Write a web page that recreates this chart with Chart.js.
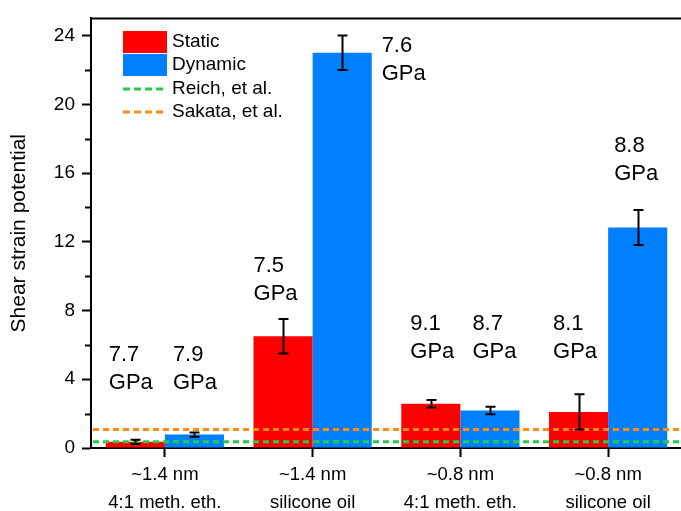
<!DOCTYPE html>
<html>
<head>
<meta charset="utf-8">
<script src="https://cdn.jsdelivr.net/npm/chart.js@4.4.1/dist/chart.umd.min.js"></script>
<style>
  html, body { margin: 0; padding: 0; background: #fff; overflow: hidden; }
  #wrap { position: absolute; left: 0; top: 0; width: 700px; height: 511px; }
</style>
</head>
<body>
<div id="wrap"><canvas id="c" width="700" height="511"></canvas></div>
<script>
// ---- data ----
const categories = [
  ['~1.4 nm', '4:1 meth. eth.'],
  ['~1.4 nm', 'silicone oil'],
  ['~0.8 nm', '4:1 meth. eth.'],
  ['~0.8 nm', 'silicone oil']
];
const staticValues   = [0.36, 6.5, 2.58, 2.1];
const staticErrors   = [0.12, 1.0, 0.22, 1.03];
const dynamicValues  = [0.78, 23.0, 2.18, 12.83];
const dynamicErrors  = [0.12, 1.0, 0.22, 1.02];
const staticModulus  = ['7.7', '7.5', '9.1', '8.1'];
const dynamicModulus = ['7.9', '7.6', '8.7', '8.8'];
const referenceLabels = ['Reich, et al.', 'Sakata, et al.'];
const referenceLevels = [0.37, 1.08];
const yMajorTicks = [0, 4, 8, 12, 16, 20, 24];
const yMinorTicks = [2, 6, 10, 14, 18, 22];

const FONT = 'Liberation Sans, Arial, sans-serif';
const RED = '#ff0000', BLUE = '#0080ff';
const REF_COLORS = ['#22cc44', '#ff8a14'];

// where each "x.x GPa" note sits: dx from the bar's left edge, v = data level of the first line
const noteSpots = {
  0: [{dx: 3, v: 5.4}, {dx: 0, v: 10.6}, {dx: 9, v: 7.2}, {dx: 4, v: 7.2}],
  1: [{dx: 8, v: 5.4}, {dx: 69, v: 23.4}, {dx: 12, v: 7.2}, {dx: 6, v: 17.6}]
};

const decorations = {
  id: 'decorations',
  afterDatasetsDraw(chart) {
    const ctx = chart.ctx;
    const y = chart.scales.y;
    const area = chart.chartArea;

    // literature reference levels, dashed across the plot
    ctx.save();
    ctx.beginPath();
    ctx.rect(area.left + 1, area.top, area.right - area.left, area.bottom - area.top);
    ctx.clip();
    ctx.lineWidth = 3;
    ctx.setLineDash([6, 4]);
    referenceLevels.forEach((lvl, k) => {
      const py = y.getPixelForValue(lvl);
      ctx.strokeStyle = REF_COLORS[k];
      ctx.beginPath();
      ctx.moveTo(area.left + 2, py);
      ctx.lineTo(area.right, py);
      ctx.stroke();
    });
    ctx.restore();

    // error bars
    [[0, staticErrors], [1, dynamicErrors]].forEach(([di, errs]) => {
      const meta = chart.getDatasetMeta(di);
      const vals = chart.data.datasets[di].data;
      meta.data.forEach((bar, i) => {
        const x = Math.round(bar.x) + 0.5;
        const yt = y.getPixelForValue(vals[i] + errs[i]);
        const yb = y.getPixelForValue(vals[i] - errs[i]);
        ctx.save();
        ctx.strokeStyle = '#000';
        ctx.lineWidth = 2;
        ctx.beginPath();
        ctx.moveTo(x, yt); ctx.lineTo(x, yb);
        ctx.moveTo(x - 5, yt); ctx.lineTo(x + 5, yt);
        ctx.moveTo(x - 5, yb); ctx.lineTo(x + 5, yb);
        ctx.stroke();
        ctx.restore();
      });
    });

    // modulus notes
    [[0, staticModulus], [1, dynamicModulus]].forEach(([di, notes]) => {
      const meta = chart.getDatasetMeta(di);
      meta.data.forEach((bar, i) => {
        const spot = noteSpots[di][i];
        const left = bar.x - bar.width / 2 + spot.dx;
        const top = y.getPixelForValue(spot.v);
        ctx.save();
        ctx.fillStyle = '#000';
        ctx.font = '22px ' + FONT;
        ctx.textAlign = 'left';
        ctx.textBaseline = 'middle';
        ctx.fillText(notes[i], left, top);
        ctx.fillText('GPa', left, top + 28);
        ctx.restore();
      });
    });
  },
  afterDraw(chart) {
    const ctx = chart.ctx;
    const area = chart.chartArea;
    const y = chart.scales.y;
    ctx.save();
    // frame top and right
    ctx.strokeStyle = '#000';
    ctx.lineWidth = 2;
    ctx.beginPath();
    ctx.moveTo(area.left - 1, area.top);
    ctx.lineTo(area.right, area.top);
    ctx.lineTo(area.right, area.bottom);
    ctx.stroke();
    // minor ticks on the value axis
    ctx.beginPath();
    yMinorTicks.forEach(v => {
      const py = Math.round(y.getPixelForValue(v)) + 0.5;
      ctx.moveTo(area.left - 6, py);
      ctx.lineTo(area.left, py);
    });
    ctx.stroke();

    // legend
    const lx = 123, lw = 44, tx = 172;
    const ds = chart.data.datasets;
    ctx.font = '19px ' + FONT;
    ctx.textAlign = 'left';
    ctx.textBaseline = 'middle';
    ctx.fillStyle = ds[0].backgroundColor; ctx.fillRect(lx, 31, lw, 22);
    ctx.fillStyle = ds[1].backgroundColor; ctx.fillRect(lx, 54, lw, 22);
    [89, 112].forEach((py, k) => {
      ctx.strokeStyle = REF_COLORS[k];
      ctx.lineWidth = 3;
      ctx.setLineDash([7, 4]);
      ctx.beginPath();
      ctx.moveTo(lx, py); ctx.lineTo(lx + lw, py);
      ctx.stroke();
    });
    ctx.setLineDash([]);
    ctx.fillStyle = '#000';
    const names = [ds[0].label, ds[1].label, referenceLabels[0], referenceLabels[1]];
    [42, 65, 89, 112].forEach((py, k) => ctx.fillText(names[k], tx, py));
    ctx.restore();
  }
};

new Chart(document.getElementById('c'), {
  type: 'bar',
  data: {
    labels: categories,
    datasets: [
      { label: 'Static', data: staticValues, backgroundColor: RED,
        categoryPercentage: 0.8, barPercentage: 1.0 },
      { label: 'Dynamic', data: dynamicValues, backgroundColor: BLUE,
        categoryPercentage: 0.8, barPercentage: 1.0 }
    ]
  },
  options: {
    responsive: false,
    animation: false,
    devicePixelRatio: 1,
    layout: { padding: { left: 0, right: 18, top: 13, bottom: 0 } },
    plugins: { legend: { display: false }, tooltip: { enabled: false } },
    scales: {
      x: {
        type: 'category',
        offset: true,
        grid: { offset: false, drawOnChartArea: false, color: '#000', tickLength: 9, tickWidth: 2 },
        border: { display: true, color: '#000', width: 2 },
        ticks: { color: '#000', padding: 4, maxRotation: 0, autoSkip: false,
                 font: { family: FONT, size: 18.5, lineHeight: 28 / 18.5 } },
        afterFit(scale) { scale.height = 63; }
      },
      y: {
        min: 0, max: 25,
        afterBuildTicks(scale) { scale.ticks = yMajorTicks.map(v => ({ value: v })); },
        grid: { drawOnChartArea: false, color: '#000', tickLength: 9, tickWidth: 2 },
        border: { display: true, color: '#000', width: 2 },
        ticks: { color: '#000', padding: 7, font: { family: FONT, size: 19 } },
        title: { display: true, text: 'Shear strain potential', color: '#000',
                 font: { family: FONT, size: 21 }, padding: { top: 7, bottom: 0 } },
        afterFit(scale) { scale.width = 91; }
      }
    }
  },
  plugins: [decorations]
});
</script>
</body>
</html>
